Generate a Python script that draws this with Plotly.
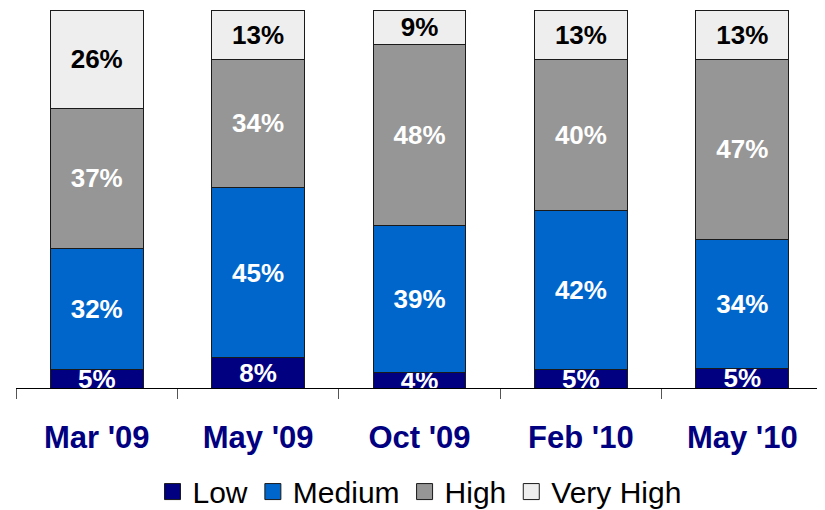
import plotly.graph_objects as go

categories = ["Mar '09", "May '09", "Oct '09", "Feb '10", "May '10"]
low = [5, 8, 4, 5, 5]
medium = [32, 45, 39, 42, 34]
high = [37, 34, 48, 40, 47]
very_high = [26, 13, 9, 13, 13]

series = [
    ("Low", low, "#000080", "white"),
    ("Medium", medium, "#0066CC", "white"),
    ("High", high, "#969696", "white"),
    ("Very High", very_high, "#EEEEEE", "black"),
]

FONT = "Liberation Sans, Arial, sans-serif"
EDGE = "#1a1a1a"

fig = go.Figure()
for name, vals, color, tcolor in series:
    fig.add_trace(go.Bar(
        name=name,
        x=categories,
        y=vals,
        text=[f"{v}%" for v in vals],
        textposition="inside",
        insidetextanchor="middle",
        textangle=0,
        textfont=dict(family=FONT, size=26, color=tcolor, weight="bold"),
        marker=dict(color=color, line=dict(color=EDGE, width=1)),
        cliponaxis=True,
        hoverinfo="skip",
        showlegend=False,
    ))

# legend entries (square swatches)
for name, vals, color, tcolor in series:
    fig.add_trace(go.Scatter(
        name=name,
        x=[None], y=[None],
        mode="markers",
        marker=dict(symbol="square", size=20, color=color,
                    line=dict(color=EDGE, width=1)),
        showlegend=True,
        hoverinfo="skip",
    ))

# page body has an 8px default margin, so the figure is sized to fit the window
fig.update_layout(
    barmode="stack",
    barnorm="percent",
    bargap=0.424,
    width=817,
    height=502,
    margin=dict(l=8, r=2, t=2, b=122, autoexpand=False),
    plot_bgcolor="white",
    paper_bgcolor="white",
    uniformtext=dict(minsize=26, mode="show"),
    font=dict(family=FONT, color="black"),
    legend=dict(
        orientation="h",
        x=0.5, xanchor="center",
        y=-0.274, yanchor="middle",
        font=dict(family=FONT, size=30, color="black"),
        traceorder="normal",
        itemclick=False,
        itemwidth=30,
    ),
    showlegend=True,
)
fig.update_xaxes(
    showline=True, linecolor="black", linewidth=1,
    ticks="outside", ticklen=10, tickcolor="#555555",
    tickson="boundaries",
    tickfont=dict(family=FONT, size=31, color="#000080", weight="bold"),
    ticklabelstandoff=22,
    showgrid=False,
    automargin=False,
)
fig.update_yaxes(
    range=[0, 100], visible=False, showgrid=False, automargin=False,
)

fig.write_html("out.html")
